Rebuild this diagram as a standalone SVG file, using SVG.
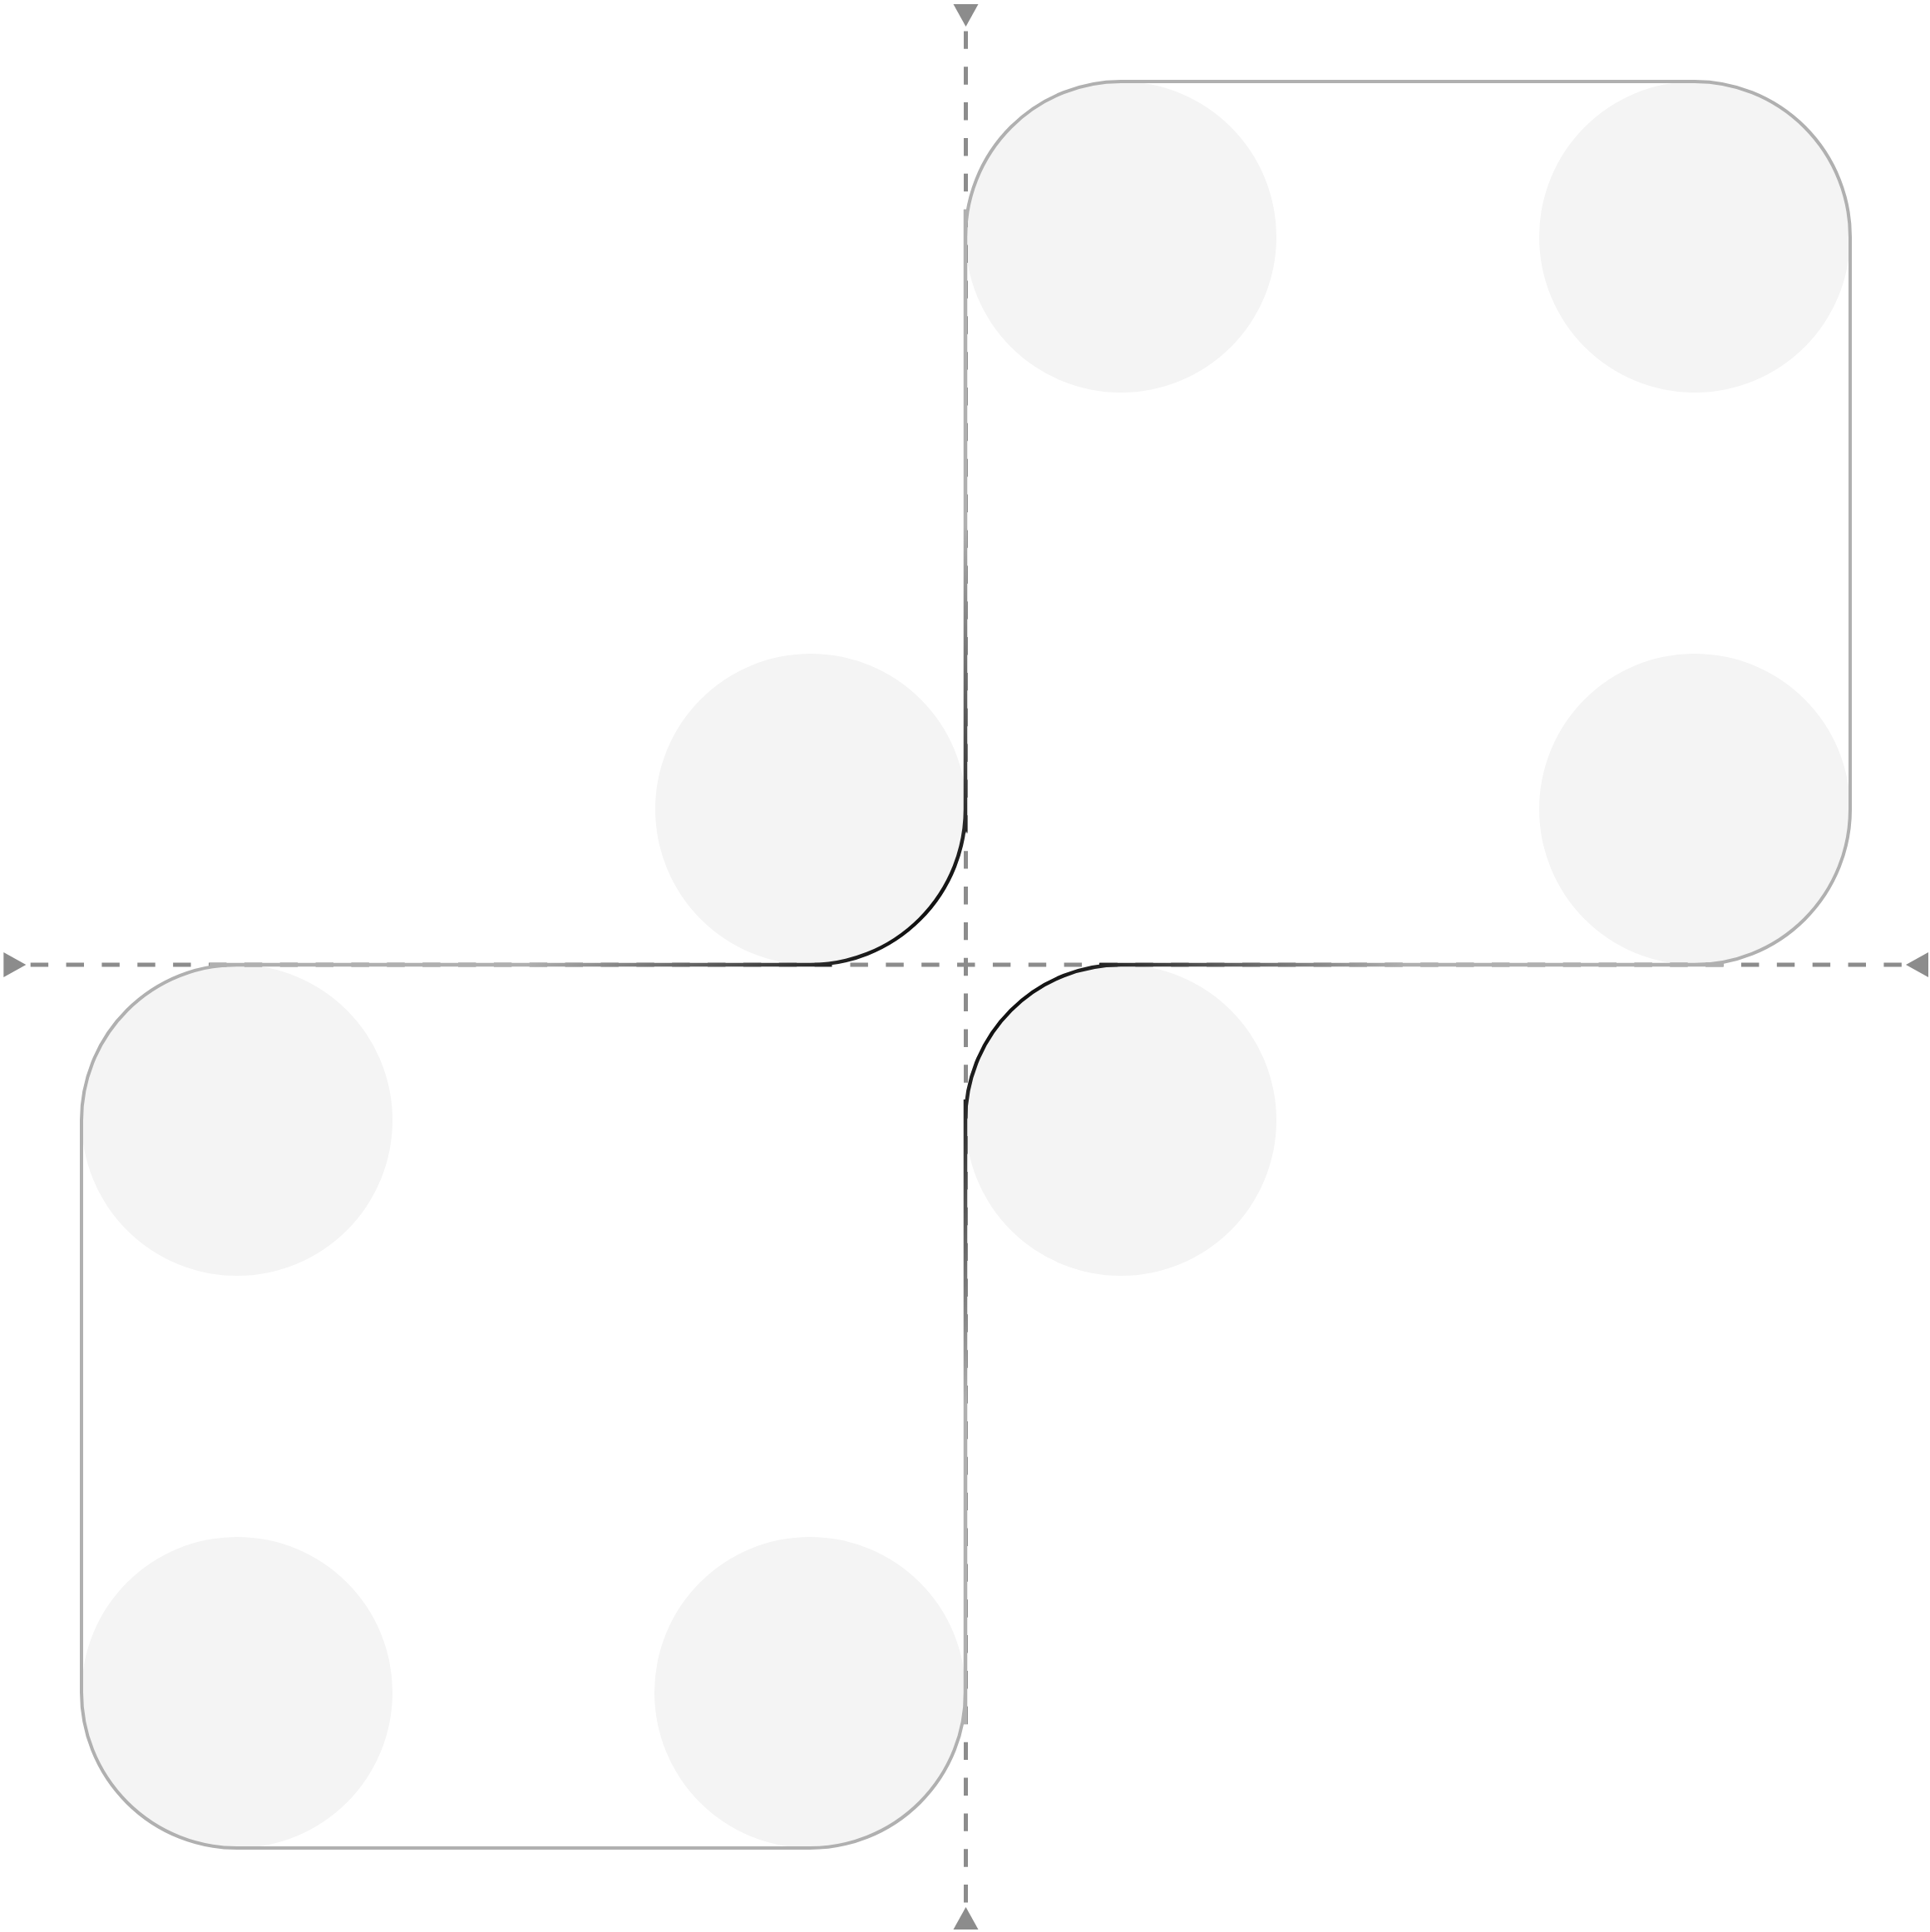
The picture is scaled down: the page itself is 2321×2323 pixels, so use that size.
<svg xmlns="http://www.w3.org/2000/svg" width="2321" height="2323" viewBox="0 0 2321 2323">
  <style>
    .dot { fill: #f4f4f4; stroke: none; }
    .frame { fill: none; stroke: #b0b0b0; stroke-width: 4; }
    .axis { fill: none; stroke: #8c8c8c; stroke-width: 5; stroke-dasharray: 21.43 21.43; stroke-dashoffset: 37.46; }
    .trace { fill: none; stroke-width: 4.5; }
  </style>
  <defs>
    <marker id="tri" markerUnits="userSpaceOnUse" markerWidth="40" markerHeight="40" viewBox="-5 -20 40 40" refX="0" refY="0" orient="auto-start-reverse">
      <polygon points="27,-15 27,15 0,0" fill="#8c8c8c"/>
    </marker>
    <linearGradient id="g1" gradientUnits="userSpaceOnUse" x1="1107" y1="1105" x2="897" y2="895">
      <stop offset="0" stop-color="#111111"/>
      <stop offset="1" stop-color="#b0b0b0"/>
    </linearGradient>
    <linearGradient id="g2" gradientUnits="userSpaceOnUse" x1="1216" y1="1215" x2="1426" y2="1425">
      <stop offset="0" stop-color="#111111"/>
      <stop offset="1" stop-color="#b0b0b0"/>
    </linearGradient>
  </defs>
  <rect width="2321" height="2323" fill="#ffffff"/>

  <g id="dots">
    <circle class="dot" cx="1348" cy="285" r="187"/>
    <circle class="dot" cx="2038" cy="285" r="187"/>
    <circle class="dot" cx="2038" cy="973" r="187"/>
    <circle class="dot" cx="975" cy="973" r="187"/>
    <circle class="dot" cx="1348" cy="1347" r="187"/>
    <circle class="dot" cx="285" cy="1347" r="187"/>
    <circle class="dot" cx="285" cy="2035" r="187"/>
    <circle class="dot" cx="974" cy="2035" r="187"/>
  </g>

  <g id="connectors">
    <line class="axis" x1="31.3" y1="1160" x2="2292" y2="1160" marker-start="url(#tri)" marker-end="url(#tri)"/>
    <line class="axis" x1="1161.5" y1="32" x2="1161.5" y2="2293" marker-start="url(#tri)" marker-end="url(#tri)"/>
  </g>

  <g id="frame-top-right">
    <path class="frame" d="M1161,1000 V285 A187,187 0 0 1 1348,98 H2038 A187,187 0 0 1 2225,285 V973 A187,187 0 0 1 2038,1160 H1322"/>
  </g>
  <g id="frame-bottom-left">
    <path class="frame" d="M1161,1322 V2035 A187,187 0 0 1 974,2222 H285 A187,187 0 0 1 98,2035 V1347 A187,187 0 0 1 285,1160 H1000"/>
  </g>

  <g id="trace-top-left">
    <path class="trace" stroke="url(#g1)" d="M1161,252 V1000 M1000,1160 H252 M1161,973 A187,187 0 0 1 974,1160"/>
  </g>
  <g id="trace-bottom-right">
    <path class="trace" stroke="url(#g2)" d="M1161,2073 V1322 M1322,1160 H2073 M1161,1347 A187,187 0 0 1 1348,1160"/>
  </g>
</svg>
